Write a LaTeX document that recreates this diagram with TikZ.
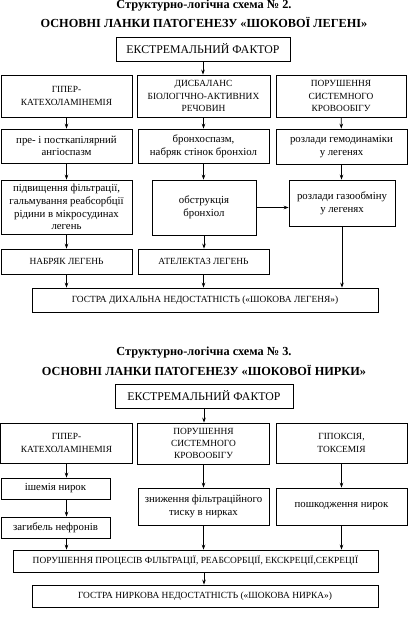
\documentclass[tikz,border=0pt]{standalone}
\usepackage{fontspec}
\setmainfont{Liberation Serif}
\usetikzlibrary{arrows.meta}
\begin{document}
\begin{tikzpicture}[x=1pt,y=-1pt,
  box/.style={draw, line width=0.8pt, inner sep=1pt, align=center, font=\fontsize{10.8}{12.7}\selectfont},
  capbox/.style={box, font=\fontsize{9.4}{12.2}\selectfont},
  bigbox/.style={box, font=\fontsize{11.8}{13}\selectfont},
  arr/.style={-{Stealth[length=5pt,width=3.6pt]}, line width=0.7pt},
  ttl/.style={inner sep=0pt, font=\bfseries\fontsize{12.3}{13}\selectfont}]
\useasboundingbox (0,0) rectangle (408,617);
% ---------- Scheme 2 ----------
\node[ttl] (t1a) at (204,6) {Структурно-логічна схема № 2.};
\node[ttl] (t1b) at (204,22) {ОСНОВНІ ЛАНКИ ПАТОГЕНЕЗУ «ШОКОВОЇ ЛЕГЕНІ»};
\node[bigbox, minimum width=174pt, minimum height=24pt] (E1) at (203,49) {ЕКСТРЕМАЛЬНИЙ ФАКТОР};
\node[capbox, minimum width=131pt, minimum height=42pt] (A1) at (66.5,96) {ГІПЕР-\\КАТЕХОЛАМІНЕМІЯ};
\node[capbox, minimum width=133pt, minimum height=42pt] (A2) at (203.5,96) {ДИСБАЛАНС\\БІОЛОГІЧНО-АКТИВНИХ\\РЕЧОВИН};
\node[capbox, minimum width=130pt, minimum height=42pt] (A3) at (341,96) {ПОРУШЕННЯ\\СИСТЕМНОГО\\КРОВООБІГУ};
\node[box, minimum width=131pt, minimum height=34pt] (B1) at (66.5,146) {пре- і посткапілярний\\ангіоспазм};
\node[box, minimum width=131pt, minimum height=34pt] (B2) at (203.5,146) {бронхоспазм,\\набряк стінок бронхіол};
\node[box, minimum width=131pt, minimum height=35pt] (B3) at (341.5,146.5) {розлади гемодинаміки\\у легенях};
\node[box, minimum width=131pt, minimum height=54pt] (C1) at (66.5,207) {підвищення фільтрації,\\гальмування реабсорбції\\рідини в мікросудинах\\легень};
\node[box, minimum width=104pt, minimum height=55pt] (C2) at (204,207.5) {обструкція\\бронхіол};
\node[box, minimum width=106pt, minimum height=46pt] (C3) at (342,203) {розлади газообміну\\у легенях};
\node[capbox, minimum width=131pt, minimum height=25pt] (D1) at (66.5,261.5) {НАБРЯК ЛЕГЕНЬ};
\node[capbox, minimum width=131pt, minimum height=25pt] (D2) at (203.5,261.5) {АТЕЛЕКТАЗ ЛЕГЕНЬ};
\node[capbox, minimum width=346pt, minimum height=24pt] (F1) at (205,300) {ГОСТРА ДИХАЛЬНА НЕДОСТАТНІСТЬ («ШОКОВА ЛЕГЕНЯ»)};
\draw[arr] (E1.south) -- (E1.south |- A2.north);
\draw[arr] (A1) -- (B1);
\draw[arr] (B1) -- (C1);
\draw[arr] (C1) -- (D1);
\draw[arr] (D1.south) -- (D1.south |- F1.north);
\draw[arr] (A2) -- (B2);
\draw[arr] (B2.south) -- (B2.south |- C2.north);
\draw[arr] (C2.south) -- (C2.south |- D2.north);
\draw[arr] (D2.south) -- (D2.south |- F1.north);
\draw[arr] (A3) -- (B3);
\draw[arr] (B3.south) -- (B3.south |- C3.north);
\draw[arr] (C3.south) -- (C3.south |- F1.north);
\draw[arr] (C2.east) -- (C2.east -| C3.west);
% ---------- Scheme 3 ----------
\node[ttl] (t2a) at (204,353) {Структурно-логічна схема № 3.};
\node[ttl] (t2b) at (204,370) {ОСНОВНІ ЛАНКИ ПАТОГЕНЕЗУ «ШОКОВОЇ НИРКИ»};
\node[bigbox, minimum width=178pt, minimum height=24pt] (E2) at (204,396) {ЕКСТРЕМАЛЬНИЙ ФАКТОР};
\node[capbox, minimum width=132pt, minimum height=40pt] (G1) at (66.5,443) {ГІПЕР-\\КАТЕХОЛАМІНЕМІЯ};
\node[capbox, minimum width=132pt, minimum height=41pt] (G2) at (203.5,443.5) {ПОРУШЕННЯ\\СИСТЕМНОГО\\КРОВООБІГУ};
\node[capbox, minimum width=131pt, minimum height=40pt] (G3) at (341.5,443) {ГІПОКСІЯ,\\ТОКСЕМІЯ};
\node[box, minimum width=109pt, minimum height=21pt] (H1) at (55.5,488.5) {ішемія нирок};
\node[box, minimum width=131pt, minimum height=37pt] (H2) at (203.5,506.5) {зниження фільтраційного\\тиску в нирках};
\node[box, minimum width=131pt, minimum height=37pt] (H3) at (341.5,506.5) {пошкодження нирок};
\node[box, minimum width=109pt, minimum height=21pt] (I1) at (55.5,527.5) {загибель нефронів};
\node[capbox, minimum width=365pt, minimum height=22pt] (J2) at (195.5,561) {ПОРУШЕННЯ ПРОЦЕСІВ ФІЛЬТРАЦІЇ, РЕАБСОРБЦІЇ, ЕКСКРЕЦІЇ,СЕКРЕЦІЇ};
\node[capbox, minimum width=346pt, minimum height=22pt] (K2) at (205,596) {ГОСТРА НИРКОВА НЕДОСТАТНІСТЬ («ШОКОВА НИРКА»)};
\draw[arr] (E2.south) -- (E2.south |- G2.north);
\draw[arr] (G1.south) -- (G1.south |- H1.north);
\draw[arr] (G1.south |- H1.south) -- (G1.south |- I1.north);
\draw[arr] (G1.south |- I1.south) -- (G1.south |- J2.north);
\draw[arr] (G2.south) -- (G2.south |- H2.north);
\draw[arr] (H2.south) -- (H2.south |- J2.north);
\draw[arr] (G3.south) -- (G3.south |- H3.north);
\draw[arr] (H3.south) -- (H3.south |- J2.north);
\draw[arr] (E2.south |- J2.south) -- (E2.south |- K2.north);
\end{tikzpicture}
\end{document}
